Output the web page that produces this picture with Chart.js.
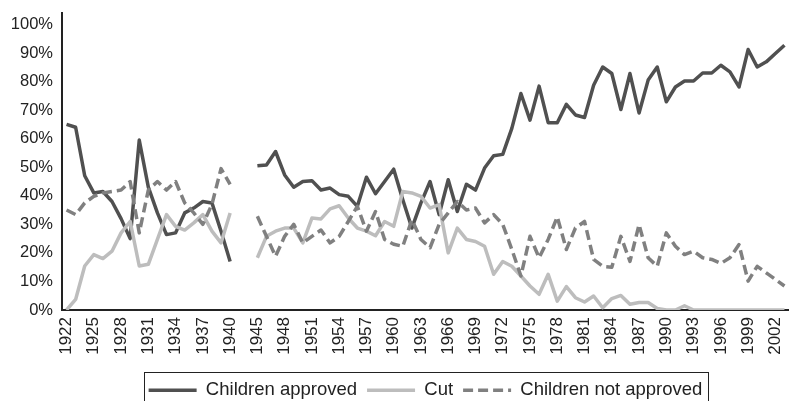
<!DOCTYPE html>
<html>
<head>
<meta charset="utf-8">
<script src="https://cdn.jsdelivr.net/npm/chart.js@4/dist/chart.umd.min.js"></script>
<style>
html,body{margin:0;padding:0;background:#fff;}
#wrap{width:789px;height:401px;position:relative;}
</style>
</head>
<body>
<div id="wrap"><canvas id="c" width="789" height="401"></canvas></div>
<script>
// Categories: 1922-1940, two empty slots, 1945-2003
const years = [1922,1923,1924,1925,1926,1927,1928,1929,1930,1931,1932,1933,1934,1935,1936,1937,1938,1939,1940,
  '', '',
  1945,1946,1947,1948,1949,1950,1951,1952,1953,1954,1955,1956,1957,1958,1959,1960,1961,1962,1963,1964,1965,1966,1967,1968,1969,1970,1971,1972,
  1973,1974,1975,1976,1977,1978,1979,1980,1981,1982,1983,1984,1985,1986,1987,1988,1989,1990,1991,1992,1993,1994,1995,1996,1997,1998,1999,2000,2001,2002,2003];

const childrenApproved = [65,64,47,41,41.5,38,32,25,59.5,43,34,26.4,27,34,35.7,38,37.5,27.6,17,
  null,null,
  50.5,50.8,55.5,47.3,43,45,45.3,42,42.7,40.4,39.8,36.3,46.5,40.7,45,49.3,38.6,28.7,37.5,45,33.4,45.6,34.5,44,42,49.7,54,54.5,
  63.6,75.8,66.5,78.4,65.6,65.6,72,68.3,67.4,78.7,85.1,82.8,70.2,82.8,69,80.5,85.1,72.9,78.1,80.2,80.2,83,83,85.7,83.4,78.1,91.2,85.1,86.9,89.8,92.7];

const cut = [0,3.7,15.4,19.4,18,20.6,27,31,15.4,16,24.7,33.4,29.3,28,30.5,33.4,27.6,23.5,34,
  null,null,
  18.3,25.8,27.6,28.7,28.7,23.5,32.2,31.9,35.4,36.5,32.2,28.7,27.6,26,31,29.3,41.5,41,39.8,35.7,36.9,20,28.7,24.7,24,22.3,12.5,17,
  15.3,11.9,8.4,5.5,12.5,3.1,8.2,4.3,2.8,4.9,0.8,4,5.1,2,2.6,2.6,0.5,0,0,1.5,0,0,0,0,0,0,0,0,0,0,0];

const childrenNotApproved = [35,33.4,37.5,39.8,41,41.5,42,45,27,42,45,42,45,37.5,34,30,37,49.5,44,
  null,null,
  32.8,25.8,18.8,25.8,30,23.5,25.8,28,23.5,25.8,31,36.3,27.6,34.5,24.7,23,22.3,31.6,24.7,21.8,30,34,38,35,35.7,30.5,33.4,30,
  21.2,11.9,25.8,18.3,24.7,32.6,21.2,28.7,31,17.7,15.3,15,25.8,17,29.9,18.3,15.3,27,22.3,19.4,20.6,18.3,17.7,16.3,18.3,22.9,10.1,15.3,13,10.7,8.4];

const yTicks = [0,10,20,30,40,50,60,70,80,90,100];

const FONT = '"Liberation Sans", Arial, Helvetica, sans-serif';

const legendBox = {
  id: 'legendBox',
  beforeInit(chart) {
    const orig = chart.legend.fit;
    chart.legend.fit = function () {
      orig.bind(chart.legend)();
      this.height = 30;
    };
  },
  afterDraw(chart) {
    const hb = chart.legend.legendHitBoxes;
    if (!hb || !hb.length) return;
    const last = hb[hb.length - 1];
    const left = hb[0].left - 5;
    const right = last.left + last.width + 5;
    const ctx = chart.ctx;
    ctx.save();
    ctx.strokeStyle = '#222';
    ctx.lineWidth = 1;
    ctx.strokeRect(Math.round(left) + 0.5, 372.5, Math.round(right - left), 40);
    ctx.restore();
  }
};

function zeroPad(scale) {
  scale.paddingLeft = 0;
  scale.paddingRight = 0;
  scale.paddingTop = 0;
  scale.paddingBottom = 0;
}

const common = {
  fill: false,
  tension: 0,
  pointRadius: 0,
  pointHoverRadius: 0,
  borderWidth: 3.5,
  borderJoinStyle: 'round',
  borderCapStyle: 'butt',
  spanGaps: false,
  pointStyle: 'line'
};

new Chart(document.getElementById('c'), {
  type: 'line',
  data: {
    labels: years,
    datasets: [
      Object.assign({label: 'Children approved', data: childrenApproved, borderColor: '#505050', backgroundColor: '#505050', order: 3}, common),
      Object.assign({label: 'Cut', data: cut, borderColor: '#bdbdbd', backgroundColor: '#bdbdbd', order: 2}, common),
      Object.assign({label: 'Children not approved', data: childrenNotApproved, borderColor: '#808080', backgroundColor: '#808080', borderDash: [10, 5], order: 1}, common)
    ]
  },
  options: {
    responsive: false,
    animation: false,
    events: [],
    layout: {autoPadding: false, padding: {top: 13, right: 0, bottom: 0, left: 0}},
    plugins: {
      tooltip: {enabled: false},
      title: {display: false},
      legend: {
        display: true,
        position: 'bottom',
        fullSize: false,
        labels: {
          usePointStyle: true,
          pointStyleWidth: 48,
          boxHeight: 18,
          padding: 10,
          color: '#222',
          font: {family: FONT, size: 18.5},
          sort: (a, b) => a.datasetIndex - b.datasetIndex,
          generateLabels(chart) {
            const items = Chart.defaults.plugins.legend.labels.generateLabels(chart);
            items.forEach(it => {
              const ds = chart.data.datasets[it.datasetIndex];
              it.strokeStyle = ds.borderColor;
              it.fillStyle = ds.borderColor;
              it.lineWidth = 3.5;
              it.lineDash = ds.borderDash || [];
              it.lineDashOffset = 0;
              it.pointStyle = 'line';
            });
            return items;
          }
        }
      }
    },
    scales: {
      x: {
        type: 'category',
        offset: true,
        grid: {display: false, drawTicks: false},
        border: {display: true, color: '#222', width: 2},
        ticks: {
          autoSkip: false,
          minRotation: 90,
          maxRotation: 90,
          padding: 7,
          color: '#222',
          font: {family: FONT, size: 17},
          callback: function (val, idx) {
            return idx % 3 === 0 ? String(this.getLabelForValue(val)) : '';
          }
        },
        afterFit(scale) { scale.height = 61; zeroPad(scale); }
      },
      y: {
        min: 0,
        max: 104,
        grid: {display: false, drawTicks: false},
        border: {display: true, color: '#222', width: 2},
        ticks: {
          padding: 9,
          color: '#222',
          font: {family: FONT, size: 16.5},
          callback: (v) => v + '%'
        },
        afterBuildTicks(scale) { scale.ticks = yTicks.map(v => ({value: v})); },
        afterFit(scale) { scale.width = 62; zeroPad(scale); }
      }
    }
  },
  plugins: [legendBox]
});
</script>
</body>
</html>
